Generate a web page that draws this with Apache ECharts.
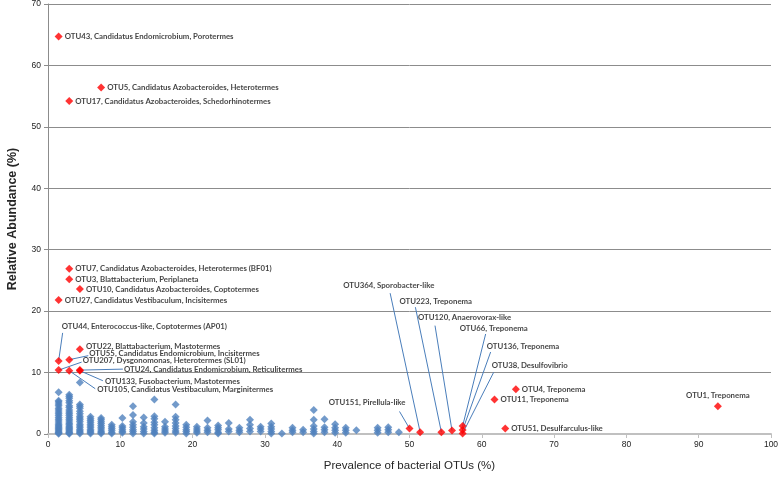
<!DOCTYPE html>
<html>
<head>
<meta charset="utf-8">
<script src="https://cdn.jsdelivr.net/npm/echarts@6/dist/echarts.min.js"></script>
<style>
html,body{margin:0;padding:0;background:#fff;}
#chart{width:778px;height:480px;}
</style>
</head>
<body>
<div id="chart"></div>
<script>
// ---- Data ----
// Background OTUs: prevalence columns (%) and their relative abundances (%)
const otherPrevalence = [1.47, 2.94, 4.41, 5.88, 7.35, 8.82, 10.29, 11.76, 13.24, 14.71, 16.18, 17.65, 19.12, 20.59, 22.06, 23.53, 25.00, 26.47, 27.94, 29.41, 30.88, 32.35, 33.82, 35.29, 36.76, 38.24, 39.71, 41.18, 42.65, 45.59, 47.06, 48.53];
const otherAbundance = [
  [6.8, 5.4, 5.2, 4.9, 4.6, 4.2, 3.9, 3.6, 3.3, 3.0, 2.7, 2.4, 2.1, 1.8, 1.5, 1.3, 1.1, 0.9, 0.7, 0.5, 0.3, 0.15, 0.05],
  [6.4, 6.1, 5.8, 5.4, 5.1, 4.6, 4.3, 3.9, 3.6, 3.3, 3.0, 2.7, 2.4, 2.1, 1.8, 1.6, 1.3, 1.1, 0.9, 0.7, 0.5, 0.3, 0.15, 0.05],
  [8.4, 4.8, 4.5, 4.2, 3.7, 3.3, 2.9, 2.6, 2.3, 2.0, 1.6, 1.3, 1.0, 0.7, 0.5, 0.3, 0.1],
  [2.8, 2.5, 2.2, 1.9, 1.6, 1.3, 1.0, 0.7, 0.5, 0.3, 0.1],
  [2.6, 2.3, 2.0, 1.7, 1.4, 1.1, 0.8, 0.5, 0.3, 0.1],
  [1.5, 1.2, 0.9, 0.6, 0.3, 0.1],
  [2.6, 1.3, 1.0, 0.7, 0.4, 0.2],
  [4.5, 3.1, 2.0, 1.5, 1.1, 0.7, 0.4, 0.1],
  [2.7, 1.8, 1.2, 0.8, 0.4, 0.1],
  [5.6, 2.9, 2.5, 1.9, 1.5, 1.0, 0.6, 0.3, 0.1],
  [2.0, 1.2, 0.8, 0.5, 0.2],
  [4.8, 2.8, 2.3, 1.8, 1.3, 0.9, 0.5, 0.2],
  [1.5, 1.1, 0.7, 0.4, 0.1],
  [1.2, 0.8, 0.5, 0.2],
  [2.2, 1.0, 0.6, 0.3],
  [1.4, 1.0, 0.7, 0.3, 0.1],
  [1.8, 0.8, 0.4],
  [1.0, 0.6, 0.3],
  [2.3, 1.5, 0.9, 0.4],
  [1.2, 0.8, 0.4],
  [1.7, 1.2, 0.8, 0.4, 0.1],
  [0.1],
  [1.0, 0.6, 0.3],
  [0.7, 0.3],
  [3.9, 2.3, 1.3, 0.8, 0.4, 0.1],
  [2.4, 1.1, 0.7, 0.3],
  [1.6, 1.0, 0.6, 0.2],
  [1.0, 0.6, 0.2],
  [0.6],
  [1.0, 0.6, 0.2],
  [1.1, 0.7, 0.3],
  [0.3]
];

// Highlighted OTUs
const keyLabels = [
  "OTU43, Candidatus Endomicrobium, Porotermes",
  "OTU5, Candidatus Azobacteroides, Heterotermes",
  "OTU17, Candidatus Azobacteroides, Schedorhinotermes",
  "OTU7, Candidatus Azobacteroides, Heterotermes (BF01)",
  "OTU3, Blattabacterium, Periplaneta",
  "OTU10, Candidatus Azobacteroides, Coptotermes",
  "OTU27, Candidatus Vestibaculum, Incisitermes",
  "OTU44, Enterococcus-like, Coptotermes (AP01)",
  "OTU22, Blattabacterium, Mastotermes",
  "OTU55, Candidatus Endomicrobium, Incisitermes",
  "OTU207, Dysgonomonas, Heterotermes (SL01)",
  "OTU24, Candidatus Endomicrobium, Reticulitermes",
  "OTU133, Fusobacterium, Mastotermes",
  "OTU105, Candidatus Vestibaculum, Marginitermes",
  "OTU151, Pirellula-like",
  "OTU364, Sporobacter-like",
  "OTU223, Treponema",
  "OTU120, Anaerovorax-like",
  "OTU66, Treponema",
  "OTU136, Treponema",
  "OTU38, Desulfovibrio",
  "OTU4, Treponema",
  "OTU11, Treponema",
  "OTU51, Desulfarculus-like",
  "OTU1, Treponema"
];
const keyPrevalence = [1.47, 7.35, 2.94, 2.94, 2.94, 4.41, 1.47, 1.47, 4.41, 2.94, 1.47, 4.41, 4.41, 2.94, 50.00, 51.47, 54.41, 55.88, 57.35, 57.35, 57.35, 64.71, 61.76, 63.24, 92.65];
const keyAbundance  = [64.7, 56.4, 54.2, 26.9, 25.2, 23.6, 21.8, 11.9, 13.8, 12.1, 10.4, 10.4, 10.3, 10.3, 0.9, 0.3, 0.3, 0.55, 1.3, 0.65, 0.1, 7.3, 5.6, 0.9, 4.5];

// ---- Label placement (style only) ----
// [dx, dy, align, attachDx, attachDy]: label anchor offset (px) from the marker,
// and leader-line attach point offset (px) from that label anchor
const leaderOffsets = {
  "OTU44":  [3, -34, 'left', 1, 6],
  "OTU55":  [20, -6, 'left', -1, 2],
  "OTU207": [24, -10, 'left', -1, 2],
  "OTU24":  [44, -1, 'left', -1, 0],
  "OTU133": [25, 11, 'left', -2, -1],
  "OTU105": [28, 19, 'left', -2, -1],
  "OTU151": [-4, -26, 'right', -6, 9],
  "OTU364": [-77, -147, 'left', 47, 8],
  "OTU223": [-42, -131, 'left', 16, 6],
  "OTU120": [-34, -113, 'left', 17, 8],
  "OTU66":  [-3, -98, 'left', 26, 6],
  "OTU136": [24, -84, 'left', 4, 6],
  "OTU38":  [29, -68, 'left', 2, 7]
};
// small vertical nudges (px) for labels kept beside their marker
const labelNudges = { "OTU22": -3 };

const FONT = "'Liberation Sans', Arial, sans-serif";
const LABEL_FONT = "Lato, 'Liberation Sans', sans-serif";

const bluePoints = [];
otherPrevalence.forEach((x, i) => otherAbundance[i].forEach(y => bluePoints.push([x, y])));

const idOf = lab => lab.split(',')[0];

const redPoints = keyLabels.map((lab, i) => {
  const item = { value: [keyPrevalence[i], keyAbundance[i]], name: lab };
  if (idOf(lab) === 'OTU1') item.label = { position: 'top', distance: 3 };
  return item;
});

const chart = echarts.init(document.getElementById('chart'), null, { renderer: 'canvas' });
chart.setOption({
  animation: false,
  backgroundColor: '#ffffff',
  grid: { left: 48, right: 7, top: 4, bottom: 46, containLabel: false, outerBoundsMode: 'none' },
  xAxis: {
    type: 'value', min: 0, max: 100, interval: 10,
    name: 'Prevalence of bacterial OTUs (%)', nameLocation: 'middle', nameGap: 26,
    nameTextStyle: { fontFamily: FONT, fontSize: 11.5, color: '#262626' },
    axisLine: { show: true, onZero: true, lineStyle: { color: '#c0c0c0', width: 2 } },
    axisTick: { show: true, inside: false, length: 4, lineStyle: { color: '#c0c0c0' } },
    axisLabel: { fontFamily: FONT, fontSize: 8.5, color: '#222', margin: 6 },
    splitLine: { show: false }
  },
  yAxis: {
    type: 'value', min: 0, max: 70, interval: 10,
    name: 'Relative Abundance (%)', nameLocation: 'middle', nameGap: 29, nameRotate: 90,
    nameTextStyle: { fontFamily: FONT, fontSize: 12.5, fontWeight: 'bold', color: '#262626' },
    axisLine: { show: true, lineStyle: { color: '#8c8c8c', width: 1 } },
    axisTick: { show: true, inside: false, length: 4, lineStyle: { color: '#8c8c8c' } },
    axisLabel: { fontFamily: FONT, fontSize: 8.5, color: '#222', margin: 7 },
    splitLine: { show: true, lineStyle: { color: '#8c8c8c', width: 1 } }
  },
  series: [
    {
      type: 'scatter', name: 'Other OTUs', data: bluePoints,
      symbol: 'diamond', symbolSize: 8,
      itemStyle: { color: '#4f81bd' }, z: 2
    },
    {
      type: 'scatter', name: 'Key OTUs', data: redPoints,
      symbol: 'diamond', symbolSize: 8,
      itemStyle: { color: '#ff0000' }, z: 3,
      label: {
        show: true, position: 'right', distance: 2,
        formatter: p => p.name,
        fontFamily: LABEL_FONT, fontSize: 7.8, fontWeight: 'bold', color: '#111'
      },
      labelLayout: function (p) {
        const id = idOf(keyLabels[p.dataIndex]);
        const off = leaderOffsets[id];
        if (!off) return labelNudges[id] ? { dy: labelNudges[id] } : {};
        const cx = p.rect.x + p.rect.width / 2;
        const cy = p.rect.y + p.rect.height / 2;
        return { x: cx + off[0], y: cy + off[1], align: off[2], verticalAlign: 'middle' };
      }
    }
  ]
});

// Leader lines from each marker (located through the chart's own scales) to its moved label
const leaderLines = [];
keyLabels.forEach((lab, i) => {
  const off = leaderOffsets[idOf(lab)];
  if (!off) return;
  const p = chart.convertToPixel({ seriesIndex: 1 }, [keyPrevalence[i], keyAbundance[i]]);
  leaderLines.push({
    type: 'line', z: 1, silent: true,
    shape: { x1: p[0], y1: p[1], x2: p[0] + off[0] + off[3], y2: p[1] + off[1] + off[4] },
    style: { stroke: '#4a7ebb', lineWidth: 1 }
  });
});
chart.setOption({ graphic: leaderLines });
</script>
</body>
</html>
